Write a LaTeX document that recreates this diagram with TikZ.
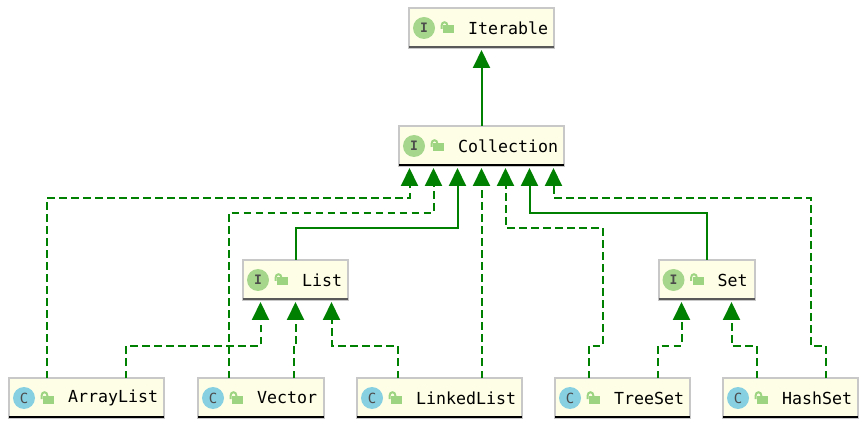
\documentclass[tikz,border=0pt]{standalone}
\usepackage{fontspec}
\setmonofont{DejaVu Sans Mono}
\usepackage{tikz}
\usetikzlibrary{positioning,arrows.meta}
\definecolor{boxfill}{HTML}{FEFEE6}
\definecolor{boxline}{HTML}{C8C8C8}
\definecolor{linkgreen}{HTML}{008000}
\definecolor{ifacebadge}{HTML}{A6D68C}
\definecolor{classbadge}{HTML}{87D0E2}
\definecolor{lockgreen}{HTML}{9CD482}
\tikzset{
    typebox/.style={draw=boxline,fill=boxfill,line width=2pt,outer sep=0pt,inner sep=0pt,minimum height=40pt},
    typename/.style={font=\ttfamily\fontsize{16.6}{18}\selectfont,inner sep=0pt,anchor=west},
    badge/.style={circle,inner sep=0pt,minimum size=22pt,text=black!70,font=\ttfamily\fontsize{14}{14}\selectfont},
    iface/.style={badge,fill=ifacebadge,font=\ttfamily\bfseries\fontsize{13}{13}\selectfont},
    cls/.style={badge,fill=classbadge},
    softrule/.style={draw=black!65,line width=2pt},
    hardrule/.style={draw=black,line width=2pt},
    extend/.style={linkgreen,line width=2pt,-{Triangle[length=18pt,width=17pt]}},
    realize/.style={extend,dash pattern=on 7.5pt off 4.5pt},
}
% #1 name, #2 rule style, #3 badge style, #4 badge letter, #5 type name
\newcommand{\typeparts}[5]{
    \draw[#2] ([yshift=1pt]#1.south west) -- ([yshift=1pt]#1.south east);
    \node[#3] (#1badge) at ([xshift=15pt]#1.west) {#4};
    \fill[lockgreen] ([xshift=34pt,yshift=-5.5pt]#1.west) rectangle ++(11,-8);
    \draw[lockgreen,line width=2pt] ([xshift=32.5pt,yshift=-1pt]#1.west) -- ++(0,-3)
        .. controls +(0,-5) and +(0,-5) .. ++(6,0);
    \node[typename] (#1name) at ([xshift=59pt]#1.west) {#5};
}

\begin{document}
\begin{tikzpicture}[x=1pt,y=-1pt]
    \useasboundingbox (0,0) rectangle (867,427);
    % interfaces
    \node[typebox,minimum width=145pt] (iterable) at (481.5,28) {};
    \node[typebox,minimum width=165pt,below=78pt of iterable] (collection) {};
    \node[typebox,minimum width=105pt] (list) at (295.5,280) {};
    \node[typebox,minimum width=96pt] (set) at (706.5,280) {};
    % classes along the bottom row
    \node[typebox,minimum width=155pt] (arraylist) at (86.5,398) {};
    \node[typebox,minimum width=126pt,right=34pt of arraylist] (vector) {};
    \node[typebox,minimum width=165pt,right=33pt of vector] (linkedlist) {};
    \node[typebox,minimum width=135pt,right=33pt of linkedlist] (treeset) {};
    \node[typebox,minimum width=135pt,right=33pt of treeset] (hashset) {};

    \typeparts{iterable}{softrule}{iface}{I}{Iterable}
    \typeparts{collection}{hardrule}{iface}{I}{Collection}
    \typeparts{list}{softrule}{iface}{I}{List}
    \typeparts{set}{softrule}{iface}{I}{Set}
    \typeparts{arraylist}{hardrule}{cls}{C}{ArrayList}
    \typeparts{vector}{hardrule}{cls}{C}{Vector}
    \typeparts{linkedlist}{hardrule}{cls}{C}{LinkedList}
    \typeparts{treeset}{hardrule}{cls}{C}{TreeSet}
    \typeparts{hashset}{hardrule}{cls}{C}{HashSet}

    % arrow ends under the interfaces
    \foreach \n/\dx in {1/-72,2/-48,3/-24,4/0,5/24,6/48,7/72}
        \coordinate (c\n) at ([xshift=\dx pt,yshift=-2pt]collection.south);
    \coordinate (l1) at ([xshift=-35pt,yshift=-2pt]list.south);
    \coordinate (l2) at ([yshift=-2pt]list.south);
    \coordinate (l3) at ([xshift=36pt,yshift=-2pt]list.south);
    \coordinate (s1) at ([xshift=-25pt,yshift=-2pt]set.south);
    \coordinate (s2) at ([xshift=25pt,yshift=-2pt]set.south);
    \coordinate (treebend) at (602.5,346);
    \coordinate (hashbend) at (810.5,346);

    \draw[extend] (collection.north) -- ([yshift=-2pt]iterable.south);
    \draw[extend] (list.north) |- ([yshift=-60pt]c3) -- (c3);
    \draw[extend] (set.north) |- ([yshift=-45pt]c6) -- (c6);

    \draw[realize] ([xshift=-39.5pt]arraylist.north) |- ([yshift=-30pt]c1) -- (c1);
    \draw[realize] ([xshift=-32.5pt]vector.north) |- ([yshift=-45pt]c2) -- (c2);
    \draw[realize] (c4 |- linkedlist.north) -- (c4);
    \draw[realize] ([xshift=-34pt]treeset.north) |- (treebend) |- ([yshift=-60pt]c5) -- (c5);
    \draw[realize] ([xshift=35pt]hashset.north) |- (hashbend) |- ([yshift=-30pt]c7) -- (c7);

    \draw[realize] ([xshift=39.5pt]arraylist.north) |- ([yshift=-44pt]l1) -- (l1);
    \draw[realize] ([xshift=32.5pt]vector.north) |- ([yshift=-44pt]l2) -- (l2);
    \draw[realize] ([xshift=-42pt]linkedlist.north) |- ([yshift=-44pt]l3) -- (l3);
    \draw[realize] ([xshift=35pt]treeset.north) |- ([yshift=-44pt]s1) -- (s1);
    \draw[realize] ([xshift=-34pt]hashset.north) |- ([yshift=-44pt]s2) -- (s2);
\end{tikzpicture}
\end{document}
